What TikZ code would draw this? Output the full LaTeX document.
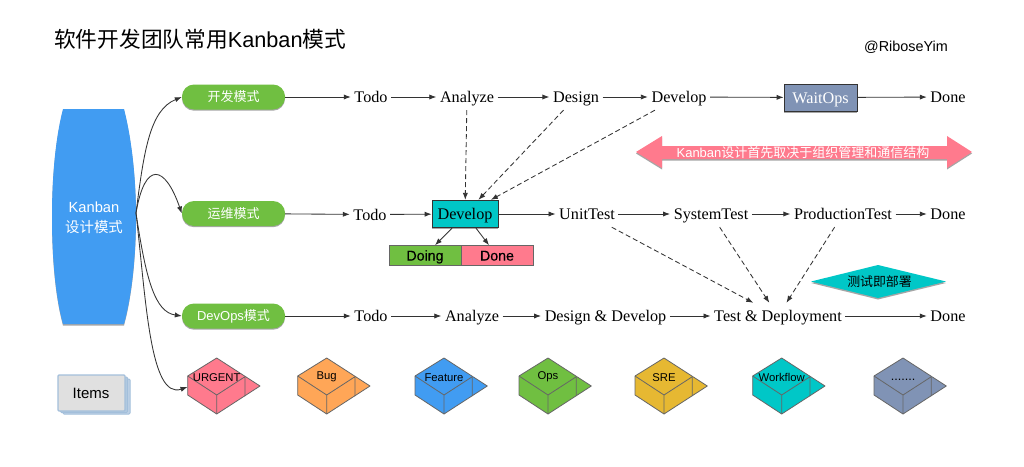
\documentclass[tikz,border=0pt]{standalone}
\usepackage{fontspec}
\setmainfont{Liberation Serif}
\setsansfont{Liberation Sans}
\newfontfamily\cjk{Noto Sans CJK SC}
\newfontfamily\medsans[FakeBold=0.35]{Liberation Sans}
\usetikzlibrary{arrows.meta,shadows,calc}
\definecolor{cBlue}{HTML}{419CF2}
\definecolor{cGreen}{HTML}{70BF41}
\definecolor{cPink}{HTML}{FF7A8D}
\definecolor{cOrange}{HTML}{FFA657}
\definecolor{cGold}{HTML}{E6B832}
\definecolor{cTeal}{HTML}{00C7C7}
\definecolor{cSlate}{HTML}{8093B5}
\definecolor{cLine}{HTML}{333333}
\definecolor{cEdge}{HTML}{666666}
\definecolor{cItem}{HTML}{A3BFDB}
\newcommand{\fs}[1]{\fontsize{#1}{#1}\selectfont}
\newcommand{\isobox}[5]{%
  \begin{scope}[shift={(#1,0)}]
    \draw[isoedge,fill=#2] (29,358) -- (72.3,386) -- (29,414) -- (0,395) -- (0,376) -- cycle;
    \draw[isoedge] (0,376) -- (29,395) -- (57.3,376.7) (29,395) -- (29,414) (57.3,376.7) -- (57.3,396);
    \node[isotext] (#3) at (29,#4) {#5};
  \end{scope}}
\tikzset{
  x=1pt,y=-1pt,
  conn/.style={draw=cLine,line width=.85pt,-{Latex[length=7pt,width=5.2pt]}},
  dashconn/.style={conn,dash pattern=on 5pt off 3pt},
  label/.style={font=\fs{16.2},text=black,inner xsep=3.5pt,inner ysep=0pt,text height=13pt,text depth=2pt,minimum height=26pt,anchor=center},
  pill/.style={rounded corners=12pt,fill=cGreen,text=white,minimum width=103pt,minimum height=25pt,inner sep=0pt,font=\sffamily\fs{13},drop shadow={shadow xshift=0pt,shadow yshift=-1.2pt,fill=black,opacity=.35}},
  isoedge/.style={draw=cEdge,line width=.8pt,line join=round},
  isotext/.style={font=\sffamily\fs{11.3},text=black,inner sep=0pt},
  softshadow/.style={drop shadow={shadow xshift=0pt,shadow yshift=-1.5pt,fill=black,opacity=.35}},
  statebox/.style={draw=cEdge,line width=.7pt,minimum height=19.5pt,inner sep=0pt,text height=10.5pt,text depth=0pt,font=\medsans\fs{14.2},text=black},
}
\begin{document}
\begin{tikzpicture}
\useasboundingbox (0,0) rectangle (1024,466);
\fill[white] (0,0) rectangle (1024,466);

% titles
\node[anchor=west,inner sep=0pt,font=\sffamily\fs{21.7}] (title) at (54,39) {{\cjk 软件开发团队常用}Kanban{\cjk 模式}};
\node[anchor=center,inner sep=0pt,font=\sffamily\fs{14.4}] (author) at (906,47) {@RiboseYim};

% Kanban barrel
\fill[cBlue,softshadow] (63,109) -- (124,109) .. controls (132,140) and (136,180) .. (136,216)
  .. controls (136,255) and (132,295) .. (124,324) -- (63,324)
  .. controls (55,295) and (52,255) .. (52,216) .. controls (52,180) and (55,140) .. (63,109) -- cycle;
\node[align=center,text=white,inner sep=0pt] (kanban) at (94,217.5) {{\sffamily\fs{14.7}Kanban}\\[7pt]{\cjk\fs{14.4}设计模式}};
\coordinate (kout) at (136,213);

% mode pills
\node[pill] (dev) at (233.5,97) {\cjk 开发模式};
\node[pill] (ops) at (233.5,213.5) {\cjk 运维模式};
\node[pill] (devops) at (233.5,316) {DevOps{\cjk 模式}};

% row 1
\node[label] (todoA) at (371,97) {Todo};
\node[label] (analyzeA) at (467,97) {Analyze};
\node[label] (designA) at (576,97) {Design};
\node[label] (developA) at (679,97) {Develop};
\node[draw=cLine,fill=cSlate,softshadow,line width=.8pt,minimum width=73pt,minimum height=27pt,inner sep=0pt,text height=13pt,text depth=2pt,font=\fs{16.2},text=white] (waitops) at (820.5,97.5) {WaitOps};
\node[label] (doneA) at (948,97) {Done};

% row 2
\node[label] (todoB) at (370,214.5) {Todo};
\node[draw=cLine,fill=cTeal,softshadow,line width=.8pt,minimum width=66pt,minimum height=27.5pt,inner sep=0pt,text height=13pt,text depth=2pt,font=\fs{16.2},text=black] (devbox) at (465,214) {Develop};
\node[label] (unit) at (587,214) {UnitTest};
\node[label] (system) at (711,214) {SystemTest};
\node[label] (prod) at (843,214) {ProductionTest};
\node[label] (doneB) at (948,214) {Done};
\node[statebox,fill=cGreen,minimum width=72pt] (doing) at (425,255.3) {Doing};
\node[statebox,fill=cPink,minimum width=72pt] (doneC) at (497,255.3) {Done};

% row 3
\node[label] (todoC) at (371,316) {Todo};
\node[label] (analyzeC) at (472,316) {Analyze};
\node[label] (design) at (605.5,316) {Design \& Develop};
\node[label] (deploy) at (778,316) {Test \& Deployment};
\node[label] (doneD) at (948,316) {Done};

% callouts
\fill[cPink,softshadow] (636,152) -- (662,136) -- (662,146) -- (947,146) -- (947,136) -- (972,152) -- (947,168) -- (947,159) -- (662,159) -- (662,168) -- cycle;
\node[text=white,inner sep=0pt,font=\sffamily\fs{13}] (advice) at (803,152.5) {Kanban{\cjk 设计首先取决于组织管理和通信结构}};
\fill[cTeal,softshadow] (811,281.5) -- (878,265) -- (946,281.5) -- (878,298) -- cycle;
\node[text=black,inner sep=0pt,font=\cjk\fs{12.9}] (deployNote) at (879.5,281.5) {测试即部署};

% items stack
\draw[cItem,fill=cItem!70,line width=1pt,rounded corners=1pt] (63,379) rectangle (130,414);
\draw[cItem,fill=cItem!85,line width=1pt,rounded corners=1pt] (60.5,377) rectangle (127.5,412.5);
\node[draw=cItem,fill=black!12,line width=1.2pt,rounded corners=1pt,minimum width=67pt,minimum height=36pt,inner sep=0pt,font=\sffamily\fs{15},text=black] (items) at (91.5,393) {\hspace{-1pt}Items};

% typed boxes
\isobox{187.7}{cPink}{urgent}{377.2}{URGENT}
\isobox{297.7}{cOrange}{bug}{377.2}{Bug}
\isobox{415}{cBlue}{feature}{377.2}{Feature}
\isobox{519}{cGreen}{opsbox}{377.2}{Ops}
\isobox{635}{cGold}{sre}{377.2}{SRE}
\isobox{752.7}{cTeal}{workflow}{377.2}{Workflow}
\isobox{874}{cSlate}{more}{380}{\fs{12.6}.......}
\coordinate (urgentIn) at (187.5,387);

% fan-out curves
\draw[conn] (kout) .. controls (144,150) and (150,110) .. (dev.west);
\draw[conn] (kout) .. controls (145,160) and (165,165) .. (ops.west);
\draw[conn] (kout) .. controls (146,280) and (155,312) .. (devops.west);
\draw[conn] (kout) .. controls (146,300) and (150,400) .. (urgentIn);

% flow arrows
\draw[conn] (dev) -- (todoA);
\draw[conn] (todoA) -- (analyzeA);
\draw[conn] (analyzeA) -- (designA);
\draw[conn] (designA) -- (developA);
\draw[conn] (developA) -- (waitops);
\draw[conn] (waitops) -- (doneA);
\draw[conn] (ops) -- (todoB);
\draw[conn] (todoB) -- (devbox);
\draw[conn] (devbox) -- (unit);
\draw[conn] (unit) -- (system);
\draw[conn] (system) -- (prod);
\draw[conn] (prod) -- (doneB);
\draw[conn] (devops) -- (todoC);
\draw[conn] (todoC) -- (analyzeC);
\draw[conn] (analyzeC) -- (design);
\draw[conn] (design) -- (deploy);
\draw[conn] (deploy) -- (doneD);

% dashed links
\draw[dashconn] (analyzeA) -- (devbox);
\draw[dashconn] (designA) -- (devbox);
\draw[dashconn] (developA) -- (devbox);
\draw[dashconn] (unit) -- (deploy);
\draw[dashconn] (system) -- (deploy);
\draw[dashconn] (prod) -- (deploy);

% develop to state boxes
\draw[conn] (devbox.south) ++(-13,0) -- (doing.north -| 435,0);
\draw[conn] (devbox.south) ++(11,0) -- (doneC.north -| 489,0);
\end{tikzpicture}
\end{document}
